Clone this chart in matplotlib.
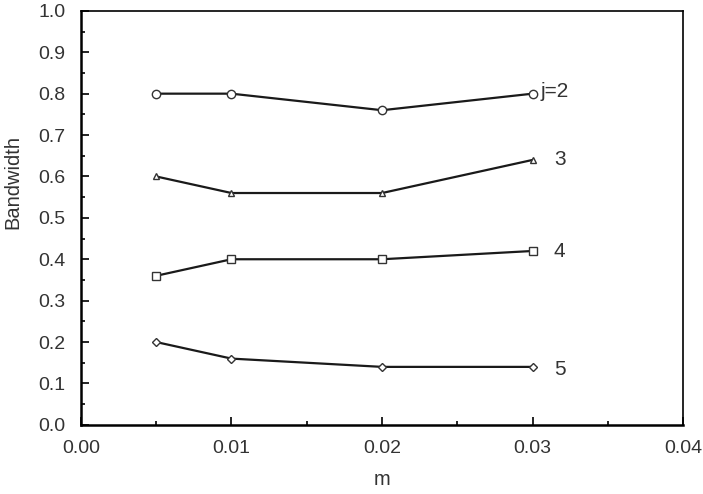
import matplotlib
matplotlib.use("Agg")
import matplotlib.pyplot as plt
from matplotlib.ticker import MultipleLocator
from matplotlib.transforms import ScaledTranslation

plt.rcParams['font.family'] = ['Liberation Sans', 'DejaVu Sans']

m = [0.005, 0.01, 0.02, 0.03]
bw_j2 = [0.80, 0.80, 0.76, 0.80]
bw_j3 = [0.60, 0.56, 0.56, 0.64]
bw_j4 = [0.36, 0.40, 0.40, 0.42]
bw_j5 = [0.20, 0.16, 0.14, 0.14]
series = [(bw_j2, 'o'), (bw_j3, '^'), (bw_j4, 's'), (bw_j5, 'D')]

# curve labels (j) and where they sit
labels = ['j=2', '3', '4', '5']
label_x = [0.0305, 0.0314, 0.0314, 0.0314]
label_y = [0.805, 0.642, 0.418, 0.133]

fig = plt.figure(figsize=(7.03, 4.94), dpi=100)
ax = fig.add_axes([0.115, 0.14, 0.857, 0.838])

sizes = {'o': 6, '^': 5, 's': 5.5, 'D': 4.5}
for vals, mk in series:
    ax.plot(m, vals, color='#1a1a1a', lw=1.6, marker=mk, ms=sizes[mk],
            mfc='white', mec='#333333', mew=1.0)

for lab, lx, ly in zip(labels, label_x, label_y):
    ax.text(lx, ly, lab, fontsize=15, va='center', ha='left', color='#333333')

ax.set_xlim(0, 0.04)
ax.set_ylim(0, 1.0)
ax.xaxis.set_major_locator(MultipleLocator(0.01))
ax.xaxis.set_minor_locator(MultipleLocator(0.005))
ax.yaxis.set_major_locator(MultipleLocator(0.1))
ax.yaxis.set_minor_locator(MultipleLocator(0.05))
ax.xaxis.set_major_formatter(plt.FormatStrFormatter('%.2f'))
ax.yaxis.set_major_formatter(plt.FormatStrFormatter('%.1f'))
ax.tick_params(which='both', direction='in', top=False, right=False, width=1.2,
               labelcolor='#333333')
ax.tick_params(which='major', length=6, labelsize=14)
ax.tick_params(axis='x', which='major', pad=11)
ax.tick_params(axis='y', which='major', pad=11)
ax.tick_params(which='minor', length=3)
for s in ax.spines.values():
    s.set_linewidth(1.2)
ax.spines['left'].set_linewidth(1.8)
ax.spines['bottom'].set_linewidth(1.8)

# first x label is nudged right, clear of the "0.0" on the y axis
first = ax.xaxis.get_major_ticks()[0].label1
first.set_transform(first.get_transform() + ScaledTranslation(0.08, 0, fig.dpi_scale_trans))

ax.set_xlabel('m', fontsize=14.5, labelpad=9, color='#333333')
ax.set_ylabel('Bandwidth', fontsize=14.5, color='#333333')
ax.yaxis.set_label_coords(-0.097, 0.587)

fig.savefig('out.png', dpi=100)
